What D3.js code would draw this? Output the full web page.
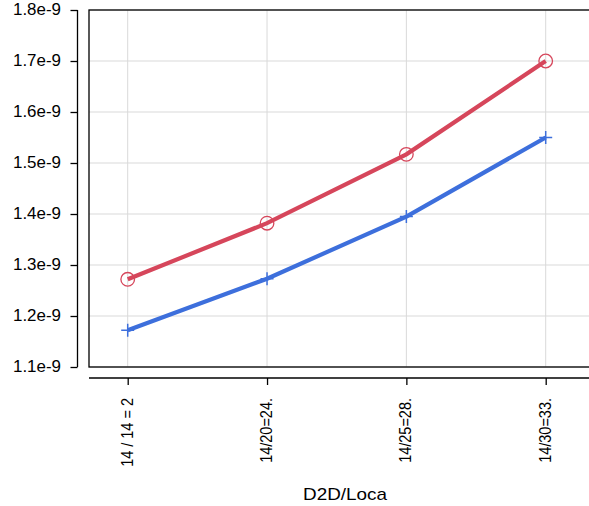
<!DOCTYPE html>
<html>
<head>
<meta charset="utf-8">
<script src="https://cdn.jsdelivr.net/npm/d3@7"></script>
<style>
  body { margin: 0; background: #fff; }
  svg text { font-family: "Liberation Sans", Arial, sans-serif; fill: #000; }
</style>
</head>
<body>
<svg width="589" height="506"></svg>
<script>
const categories = ['14 / 14 = 2', '14/20=24.', '14/25=28.', '14/30=33.']
const redSeries = [1.272e-9, 1.382e-9, 1.517e-9, 1.700e-9]
const blueSeries = [1.172e-9, 1.273e-9, 1.395e-9, 1.550e-9]
const yTicks = [1.1e-9, 1.2e-9, 1.3e-9, 1.4e-9, 1.5e-9, 1.6e-9, 1.7e-9, 1.8e-9]
const yTickLabels = ['1.1e-9', '1.2e-9', '1.3e-9', '1.4e-9', '1.5e-9', '1.6e-9', '1.7e-9', '1.8e-9']
const xTitle = 'D2D/Loca'

const svg = d3.select('svg')

const box = {left: 89, top: 10, right: 600, bottom: 367}

const x = d3.scalePoint().domain(categories).range([127.7, 545.7])
const y = d3.scaleLinear().domain([1.1e-9, 1.8e-9]).range([box.bottom, box.top])

/* Grid */
const grid = svg.append('g').attr('stroke', '#d9d9d9').attr('stroke-width', 1)
grid.selectAll('.gx').data(categories).enter().append('line')
  .attr('x1', d => x(d)).attr('x2', d => x(d))
  .attr('y1', box.top).attr('y2', box.bottom)
grid.selectAll('.gy').data(yTicks).enter().append('line')
  .attr('x1', box.left).attr('x2', box.right)
  .attr('y1', d => y(d)).attr('y2', d => y(d))

/* Plot box */
svg.append('rect')
  .attr('x', box.left).attr('y', box.top)
  .attr('width', box.right - box.left).attr('height', box.bottom - box.top)
  .attr('fill', 'none').attr('stroke', '#000').attr('stroke-width', 1.3)

/* Y axis, offset to the left */
const yAxis = d3.axisLeft(y).tickValues(yTicks).tickSize(7).tickFormat((d, i) => yTickLabels[i])
const gy = svg.append('g').attr('transform', 'translate(77.5,0)').call(yAxis)
gy.attr('font-size', null).attr('font-family', null)
gy.select('.domain').attr('d', `M0,${box.top}V${box.bottom}`).attr('stroke-width', 1.3)
gy.selectAll('.tick line').attr('stroke-width', 1.3)
gy.selectAll('.tick text')
  .attr('x', null).attr('dy', null)
  .attr('transform', 'translate(-16.5,0) scale(1.06,1)')
  .attr('dominant-baseline', 'middle')
  .style('font-size', '16px')

/* X axis, offset below */
const xAxis = d3.axisBottom(x).tickSize(7)
const gx = svg.append('g').attr('transform', 'translate(0,378)').call(xAxis)
gx.attr('font-size', null).attr('font-family', null)
gx.select('.domain').attr('d', `M${box.left},0H${box.right}`).attr('stroke-width', 1.3)
gx.selectAll('.tick line').attr('stroke-width', 1.3)
gx.selectAll('.tick text')
  .attr('y', null).attr('dy', null)
  .attr('transform', 'translate(0,20) scale(1.15,1) rotate(-90)')
  .attr('text-anchor', 'end')
  .attr('dominant-baseline', 'middle')
  .style('font-size', '14.5px')

svg.append('text')
  .attr('transform', 'translate(345,500) scale(1.18,1)')
  .attr('text-anchor', 'middle')
  .style('font-size', '16px')
  .text(xTitle)

/* Lines */
const line = d3.line().x((d, i) => x(categories[i])).y(d => y(d))

svg.append('path').datum(blueSeries)
  .attr('d', line).attr('fill', 'none')
  .attr('stroke', '#3d6fdc').attr('stroke-width', 4.2)
svg.append('path').datum(redSeries)
  .attr('d', line).attr('fill', 'none')
  .attr('stroke', '#d6465b').attr('stroke-width', 4.2)

/* Markers */
svg.selectAll('.cross').data(blueSeries).enter().append('path')
  .attr('d', (d, i) => {
    const cx = x(categories[i]), cy = y(d), s = 6.5
    return `M${cx - s},${cy}H${cx + s}M${cx},${cy - s}V${cy + s}`
  })
  .attr('stroke', '#3d6fdc').attr('stroke-width', 1.5)
svg.selectAll('.circ').data(redSeries).enter().append('circle')
  .attr('cx', (d, i) => x(categories[i])).attr('cy', d => y(d))
  .attr('r', 6.8).attr('fill', 'none')
  .attr('stroke', '#d6465b').attr('stroke-width', 1.3)
</script>
</body>
</html>
